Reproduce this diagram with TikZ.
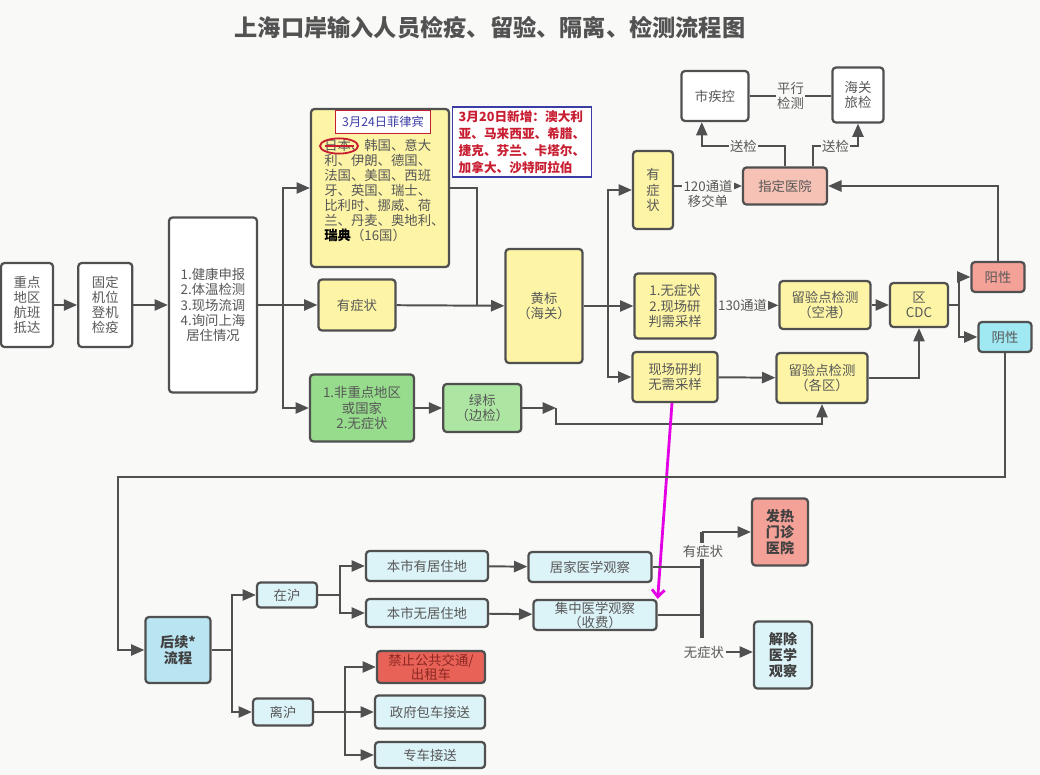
\documentclass[tikz,border=0pt]{standalone}
\usepackage{fontspec}
\setmainfont{Noto Sans CJK SC}
\usetikzlibrary{arrows.meta,positioning}
\definecolor{ink}{RGB}{80,80,80}
\definecolor{txt}{RGB}{88,88,88}
\definecolor{bgc}{RGB}{249,249,247}
\definecolor{ylw}{RGB}{253,245,165}
\definecolor{grnd}{RGB}{150,220,140}
\definecolor{grnl}{RGB}{172,230,162}
\definecolor{hospfill}{RGB}{246,194,182}
\definecolor{rosefill}{RGB}{244,162,152}
\definecolor{banfill}{RGB}{232,98,88}
\definecolor{negfill}{RGB}{160,232,242}
\definecolor{skyl}{RGB}{220,243,248}
\definecolor{skyd}{RGB}{185,228,242}
\definecolor{magx}{RGB}{228,0,228}
\definecolor{redt}{RGB}{200,30,50}
\definecolor{bluet}{RGB}{60,60,165}
\tikzset{
  box/.style={draw=ink, line width=1.6pt, rectangle, rounded corners=2.5pt, align=center, fill=white, text=txt, inner sep=1pt, font=\fontsize{9.5}{10.8}\selectfont},
  ybox/.style={box, fill=ylw},
  sbox/.style={box, fill=skyl},
  boldbox/.style={box, font=\fontsize{10}{11.5}\selectfont\bfseries, text=black!75},
  signal/.style={-{Triangle[length=9.5pt,width=8pt]}, line width=1.4pt, draw=ink},
  conn/.style={line width=1.4pt, draw=ink},
  bar/.style={line width=2.4pt, draw=ink},
  hint/.style={->, line width=2pt, draw=magx, >={Straight Barb[length=5pt,width=9pt]}},
  lbl/.style={fill=bgc, text=txt, inner sep=1pt, align=center, font=\fontsize{9.5}{10.8}\selectfont}
}
\begin{document}
\begin{tikzpicture}[x=0.025cm, y=-0.025cm, node distance=0.575cm]
  \fill[bgc] (0,0) rectangle (1040,775);
  \useasboundingbox (0,0) rectangle (1040,775);

  \node[font=\fontsize{16.5}{18}\selectfont\bfseries, text=black!68] (title) at (490,28) {上海口岸输入人员检疫、留验、隔离、检测流程图};

  \node[box, minimum width=1.3cm, minimum height=2.1cm] (arrive) at (27,305) {重点\\地区\\航班\\抵达};
  \node[box, minimum width=1.35cm, minimum height=2.1cm, right=of arrive] (board) {固定\\机位\\登机\\检疫};
  \node[box, minimum width=2.2cm, minimum height=4.375cm] (check) at (213,305) {1.健康申报\\2.体温检测\\3.现场流调\\4.询问上海\\居住情况};

  \node[ybox, minimum width=3.45cm, minimum height=3.95cm] (country) at (380,188) {};
  \node[draw=redt, line width=1pt, fill=white, text=bluet, minimum width=2.375cm, minimum height=0.575cm, inner sep=1pt, font=\fontsize{8.7}{10}\selectfont] (philippines) at (383,122) {3月24日菲律宾};
  \node[anchor=north west, inner sep=0pt, align=left, text=txt, font=\fontsize{9.5}{10.7}\selectfont] (countrylist) at (324,139) {日本、韩国、意大\\利、伊朗、德国、\\法国、美国、西班\\牙、英国、瑞士、\\比利时、挪威、荷\\兰、丹麦、奥地利、\\{\color{black}\bfseries 瑞典}（16国）};
  \draw[redt, line width=1pt] (325,146) -- (354,146);
  \draw[redt, line width=1.3pt] (339,146) ellipse [x radius=0.475cm, y radius=0.19cm];
  \node[draw=bluet, line width=1pt, fill=white, text=redt, minimum width=3.475cm, minimum height=1.75cm, align=left, inner sep=2pt, font=\fontsize{9}{12}\selectfont\bfseries] (added) at (522,142) {3月20日新增：澳大利\\亚、马来西亚、希腊、\\捷克、芬兰、卡塔尔、\\加拿大、沙特阿拉伯};

  \node[ybox, minimum width=1.925cm, minimum height=1.275cm] (sym) at (357,305) {有症状};
  \node[box, fill=grnd, minimum width=2.6cm, minimum height=1.675cm] (green) at (362,408) {1.非重点地区\\或国家\\2.无症状};
  \node[box, fill=grnl, minimum width=1.95cm, minimum height=1.2cm, right=0.675cm of green] (greenmark) {绿标\\（边检）};
  \node[ybox, minimum width=1.925cm, minimum height=2.85cm] (yellowmark) at (544,306) {黄标\\（海关）};

  \node[ybox, minimum width=1.0cm, minimum height=1.95cm] (sym2) at (653,190) {有\\症\\状};
  \node[ybox, minimum width=2.025cm, minimum height=1.625cm] (nosym) at (675,306) {1.无症状\\2.现场研\\判需采样};
  \node[ybox, minimum width=2.125cm, minimum height=1.25cm] (nosample) at (675,377) {现场研判\\无需采样};
  \node[ybox, minimum width=2.275cm, minimum height=1.2cm] (airport) at (825,305) {留验点检测\\（空港）};
  \node[ybox, minimum width=2.275cm, minimum height=1.25cm] (district) at (822,378) {留验点检测\\（各区）};
  \node[ybox, minimum width=1.45cm, minimum height=1.1cm] (cdc) at (919,305) {区\\CDC};
  \node[box, fill=rosefill, minimum width=1.325cm, minimum height=0.75cm] (pos) at (998,277) {阳性};
  \node[box, fill=negfill, minimum width=1.325cm, minimum height=0.75cm] (neg) at (1005,337) {阴性};
  \node[box, fill=hospfill, minimum width=2.1cm, minimum height=0.925cm] (hosp) at (785,186) {指定医院};
  \node[box, minimum width=1.675cm, minimum height=1.25cm] (citycdc) at (715,96) {市疾控};
  \node[box, minimum width=1.275cm, minimum height=1.375cm] (customs) at (858,95) {海关\\旅检};

  \node[boldbox, fill=skyd, minimum width=1.625cm, minimum height=1.65cm] (follow) at (178,650) {后续*\\流程};
  \node[sbox, minimum width=1.5cm, minimum height=0.625cm] (inSH) at (287,595) {在沪};
  \node[sbox, minimum width=1.5cm, minimum height=0.675cm] (outSH) at (283,712) {离沪};
  \node[sbox, minimum width=3.05cm, minimum height=0.75cm] (home) at (427,566) {本市有居住地};
  \node[sbox, minimum width=3.05cm, minimum height=0.7cm] (nohome) at (427,613) {本市无居住地};
  \node[box, fill=banfill, text={rgb,255:red,140;green,40;blue,35}, minimum width=2.7cm, minimum height=0.8cm, font=\fontsize{9.5}{10}\selectfont] (ban) at (431,667) {禁止公共交通/\\出租车};
  \node[sbox, minimum width=2.75cm, minimum height=0.825cm] (bus) at (430,712) {政府包车接送};
  \node[sbox, minimum width=2.75cm, minimum height=0.65cm] (car) at (430,755) {专车接送};
  \node[sbox, minimum width=3.075cm, minimum height=0.75cm] (homeobs) at (590,567) {居家医学观察};
  \node[sbox, minimum width=3.075cm, minimum height=0.75cm, font=\fontsize{9.5}{10}\selectfont] (centobs) at (595,615) {集中医学观察\\（收费）};
  \node[boldbox, fill=rosefill, minimum width=1.4cm, minimum height=1.675cm] (fever) at (780,532) {发热\\门诊\\医院};
  \node[boldbox, fill=skyl, minimum width=1.45cm, minimum height=1.675cm] (release) at (783,655) {解除\\医学\\观察};

  \coordinate (split1) at (283,305);
  \coordinate (join1) at (477,305);
  \coordinate (tick) at (556,408);
  \coordinate (split2) at (608,306);
  \coordinate (split3) at (959,305);
  \coordinate (loop) at (118,477);
  \coordinate (split4) at (232,650);
  \coordinate (split5) at (340,595);
  \coordinate (split6) at (345,712);
  \coordinate (bartop) at (702,532);
  \coordinate (barbot) at (702,638);

  \draw[signal] (arrive) -- (board);
  \draw[signal] (board) -- (check);
  \draw[signal] (check) -- (sym);
  \draw[signal] (split1) |- (country);
  \draw[signal] (split1) |- (green);
  \draw[conn] (country) -| (join1);
  \draw[signal] (sym) -- (yellowmark);
  \draw[signal] (green) -- (greenmark);
  \draw[signal] (greenmark) -- (tick);
  \draw[signal] (tick) -- ++(0,16) -| (district);
  \draw[conn] (yellowmark) -- (split2);
  \draw[signal] (split2) |- (sym2);
  \draw[signal] (split2) -- (nosym);
  \draw[signal] (split2) |- (nosample);
  \draw[signal] (sym2.east |- hosp.west) -- node[lbl, anchor=north, yshift=0.2cm] {120通道\\移交单} (hosp.west);
  \draw[signal] (hosp.north) -- ++(0,-20) -| node[lbl, pos=0.25] {送检} ([xshift=-0.33cm]citycdc.south);
  \draw[signal] ([xshift=0.7cm]hosp.north) -- ++(0,-20) -| node[lbl, pos=0.25] {送检} (customs.south);
  \draw[conn] (citycdc.east) -- node[lbl] {平行\\检测} (citycdc.east -| customs.west);
  \draw[signal] (nosym) -- node[lbl, pos=0.42] {130通道} (airport);
  \draw[signal] (nosample) -- (district);
  \draw[signal] (airport) -- (cdc);
  \draw[signal] (district) -| (cdc);
  \draw[conn] (cdc) -- (split3);
  \draw[signal] (split3) |- (pos);
  \draw[signal] (split3) |- (neg);
  \draw[signal] (pos) |- (hosp);
  \draw[hint] ([xshift=-0.075cm]nosample.south) -- (centobs.north east);

  \draw[signal] (neg) |- (loop) |- (follow);
  \draw[conn] (follow) -- (split4);
  \draw[signal] (split4) |- (inSH);
  \draw[signal] (split4) |- (outSH);
  \draw[conn] (inSH) -- (split5);
  \draw[signal] (split5) |- (home);
  \draw[signal] (split5) |- (nohome);
  \draw[conn] (outSH) -- (split6);
  \draw[signal] (split6) |- (ban);
  \draw[signal] (split6) -- (bus);
  \draw[signal] (split6) |- (car);
  \draw[signal] (home) -- (homeobs);
  \draw[signal] (nohome) -- (centobs);
  \draw[conn] (homeobs) -- (homeobs -| bartop);
  \draw[conn] (centobs) -- (centobs -| bartop);
  \draw[bar] (bartop) -- (barbot);
  \draw[signal] (bartop) -- (fever);
  \node[lbl] (symlbl) at (703,551) {有症状};
  \node[lbl] (nosymlbl) at (704,652) {无症状};
  \draw[signal] (nosymlbl) -- (nosymlbl -| release.west);
\end{tikzpicture}
\end{document}
